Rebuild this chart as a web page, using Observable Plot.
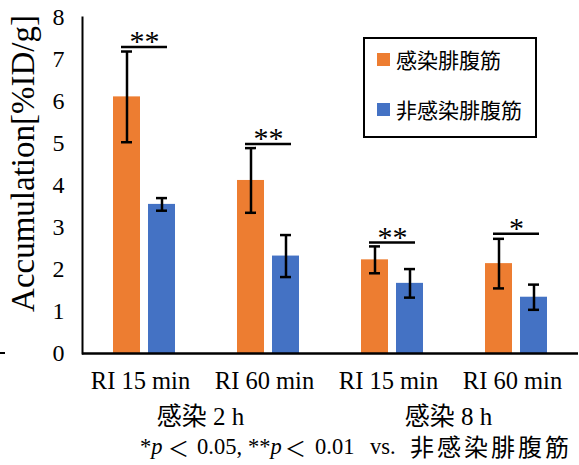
<!DOCTYPE html>
<html>
<head>
<meta charset="utf-8">
<script src="https://cdn.jsdelivr.net/npm/d3@7"></script>
<script src="https://cdn.jsdelivr.net/npm/@observablehq/plot@0.6"></script>
<style>
  html, body { margin: 0; padding: 0; background: #fff; }
  #wrap { position: relative; width: 579px; height: 465px; overflow: hidden;
          font-family: "Liberation Serif", "Noto Sans CJK JP", serif; color: #000; }
  #legend { position: absolute; left: 363px; top: 37px; width: 170px; height: 97px;
            border: 2.5px solid #000; background: #fff; }
  .item { position: absolute; left: 12px; font-size: 21px; line-height: 21px; white-space: nowrap;
          font-family: "Noto Sans CJK JP", sans-serif; }
  .sw { display: inline-block; width: 13px; height: 13px; margin-right: 6px; vertical-align: 2px; }
  #note { position: absolute; left: 0; top: 435px; width: 579px; height: 30px; }
  #note span { position: absolute; top: 0; font-size: 22.5px; line-height: 24px; white-space: nowrap; }
  #note span.lt { font-family: "Noto Sans CJK JP", sans-serif; font-size: 21px; width: 20px; text-align: center; }
  #note span.cjk { font-family: "Noto Sans CJK JP", sans-serif; font-size: 24px; letter-spacing: 3px; top: -1px; }
  #dash { position: absolute; left: 0; top: 352px; width: 5px; height: 2px; background: #000; }
</style>
</head>
<body>
<div id="wrap">
  <div id="chart"></div>
  <div id="legend"></div>
  <div id="note"></div>
  <div id="dash"></div>
</div>
<script>
// ---- data ----
const groups = ["2h-15", "2h-60", "8h-15", "8h-60"];
const groupLabels = ["RI 15 min", "RI 60 min", "RI 15 min", "RI 60 min"];
const series = ["感染腓腹筋", "非感染腓腹筋"];
const infected = [6.11, 4.12, 2.23, 2.14];
const infectedErr = [1.08, 0.77, 0.32, 0.59];
const nonInfected = [3.55, 2.32, 1.67, 1.34];
const nonInfectedErr = [0.15, 0.50, 0.34, 0.30];
const sigLevel = [7.30, 4.99, 2.64, 2.85];
const sigLabels = ["**", "**", "**", "*"];
const infectionLabels = ["感染 2 h", "感染 8 h"];
const infectionGroups = ["2h-60", "8h-60"];
const yTicks = [0, 1, 2, 3, 4, 5, 6, 7, 8];
const yLabel = "Accumulation[%ID/g]";
const colors = ["#ED7D31", "#4472C4"];

// ---- build tables ----
const rows = [];
groups.forEach((g, i) => {
  rows.push({group: g, series: series[0], value: infected[i], err: infectedErr[i]});
  rows.push({group: g, series: series[1], value: nonInfected[i], err: nonInfectedErr[i]});
});
const sig = groups.map((g, i) => ({group: g, y: sigLevel[i], label: sigLabels[i]}));
const inf = infectionLabels.map((t, i) => ({group: infectionGroups[i], label: t}));
const ylab = [{group: groups[0], label: yLabel}];
const yTickRows = yTicks.map(t => ({group: groups[0], y: t}));
const fxTickRows = groups.map((g, i) => ({group: g, label: groupLabels[i]}));

const serif = "Liberation Serif, Noto Sans CJK JP, serif";

const plot = Plot.plot({
  width: 579,
  height: 465,
  marginLeft: 81,
  marginRight: 1,
  marginTop: 17,
  marginBottom: 112,
  style: {fontSize: "21px", fontFamily: serif, background: "#fff", color: "#000"},
  fx: {domain: groups, padding: 0, axis: null},
  x: {domain: series, paddingInner: 0.222, paddingOuter: 0.836, axis: null},
  y: {domain: [0, 8], axis: null},
  color: {domain: series, range: colors},
  marks: [
    Plot.barY(rows, {fx: "group", x: "series", y: "value", fill: "series"}),
    Plot.ruleX(rows, {fx: "group", x: "series", y1: d => d.value - d.err, y2: d => d.value + d.err,
                      stroke: "#000", strokeWidth: 2.5}),
    Plot.tickY(rows, {fx: "group", x: "series", y: d => d.value + d.err, stroke: "#000", strokeWidth: 2.5,
                      insetLeft: 8, insetRight: 8}),
    Plot.tickY(rows, {fx: "group", x: "series", y: d => d.value - d.err, stroke: "#000", strokeWidth: 2.5,
                      insetLeft: 8, insetRight: 8}),
    Plot.ruleY(sig, {fx: "group", y: "y", stroke: "#000", strokeWidth: 2.5, insetLeft: 39, insetRight: 39}),
    Plot.text(sig, {fx: "group", y: "y", text: "label", lineAnchor: "bottom", dy: 4, fontSize: 30,
                    fontFamily: serif}),
    Plot.ruleY([0], {stroke: "#000", strokeWidth: 2.5}),
    Plot.frame({anchor: "left", facetAnchor: "left", stroke: "#000", strokeWidth: 2}),
    // y tick labels
    Plot.text(yTickRows, {fx: "group", y: "y", text: d => String(d.y), frameAnchor: "left",
                          textAnchor: "end", lineAnchor: "middle", dx: -18, fontSize: 24, fontFamily: serif}),
    // category labels
    Plot.text(fxTickRows, {fx: "group", text: "label", frameAnchor: "bottom", textAnchor: "middle",
                           lineAnchor: "top", dy: 18, dx: -4, fontSize: 24.5, fontFamily: serif}),
    // y title
    Plot.text(ylab, {fx: "group", text: "label", frameAnchor: "left", rotate: -90, textAnchor: "middle",
                     lineAnchor: "middle", dx: -59, dy: -22, fontSize: 33, fontFamily: serif}),
    // infection time labels
    Plot.text(inf, {fx: "group", text: "label", frameAnchor: "bottom-left", textAnchor: "middle",
                    lineAnchor: "middle", dy: 63, dx: -6, fontSize: 25, fontFamily: serif})
  ]
});
document.getElementById("chart").appendChild(plot);

// legend
const legend = document.getElementById("legend");
series.forEach((s, i) => {
  const item = document.createElement("div");
  item.className = "item";
  item.style.top = (i === 0 ? 10 : 60) + "px";
  item.innerHTML = `<span class="sw" style="background:${colors[i]}"></span>${s}`;
  legend.appendChild(item);
});

// footnote: "*p ＜ 0.05, **p ＜ 0.01 vs. 非感染腓腹筋"
const noteParts = [
  {html: "*<i>p</i>", cls: "", left: 140},
  {html: "＜", cls: "lt", left: 168},
  {html: "0.05,", cls: "", left: 197},
  {html: "**<i>p</i>", cls: "", left: 248},
  {html: "＜", cls: "lt", left: 285},
  {html: "0.01", cls: "", left: 315},
  {html: "vs.", cls: "", left: 370},
  {html: series[1], cls: "cjk", left: 410}
];
const note = document.getElementById("note");
noteParts.forEach(p => {
  const s = document.createElement("span");
  if (p.cls) s.className = p.cls;
  s.style.left = p.left + "px";
  s.innerHTML = p.html;
  note.appendChild(s);
});
</script>
</body>
</html>
